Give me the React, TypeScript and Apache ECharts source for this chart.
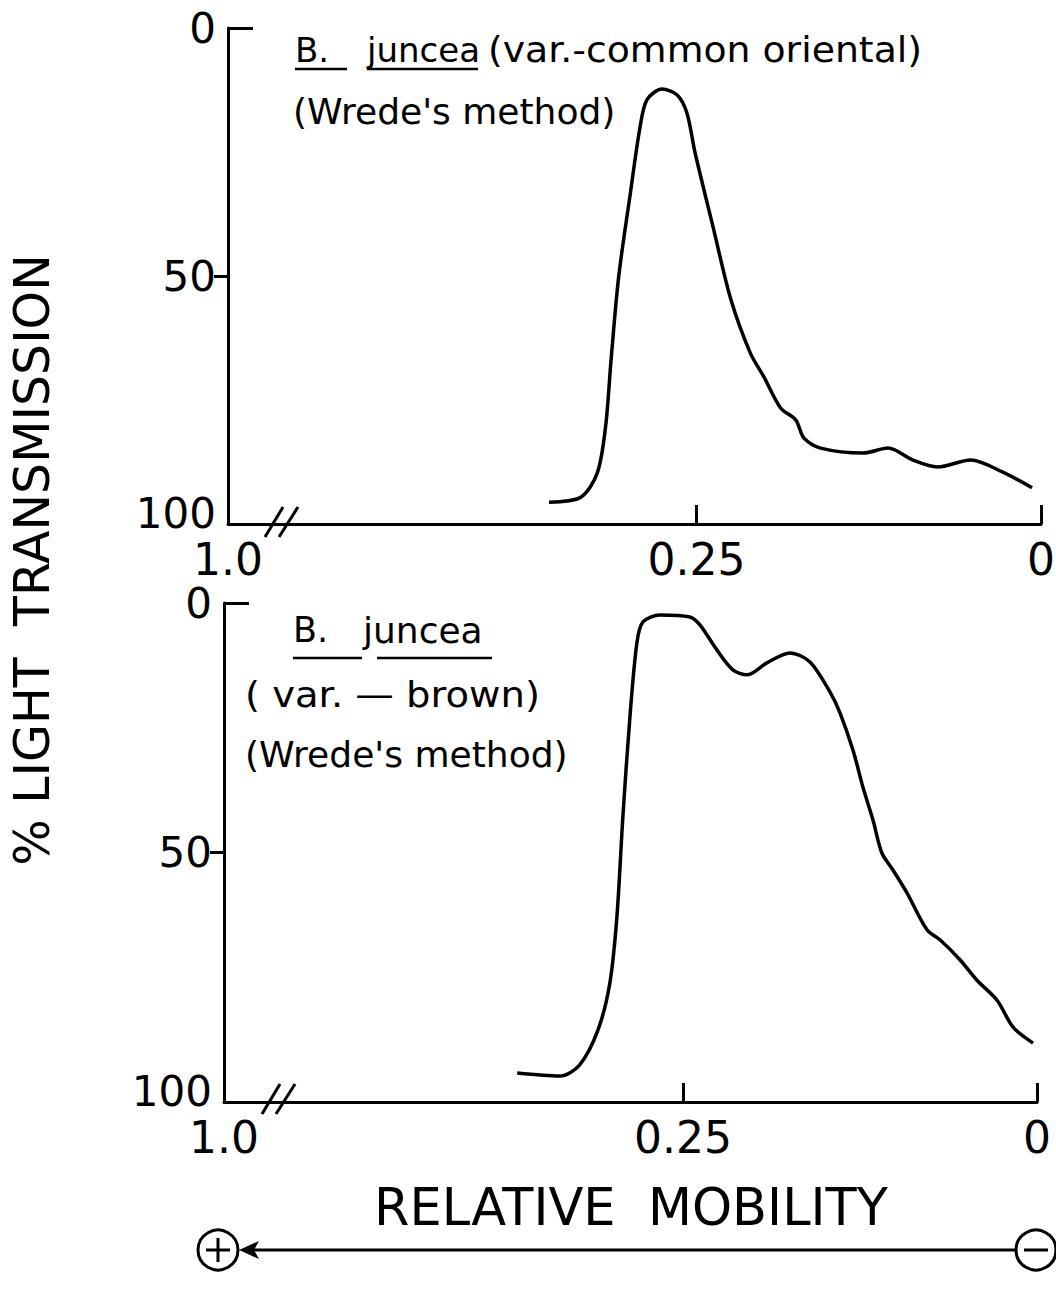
import React, { useEffect, useRef } from "react";
import * as echarts from "echarts";

// Relative mobility (x) and % light transmission (y)
const topMobility = [0.357, 0.334, 0.322, 0.316, 0.312, 0.3065, 0.298, 0.291, 0.286, 0.275, 0.264, 0.257, 0.251, 0.238, 0.225, 0.211, 0.201, 0.189, 0.178, 0.172, 0.16, 0.129, 0.111, 0.093, 0.075, 0.051, 0.028, 0.0065];
const topTransmission = [95.6, 94.6, 89.7, 80.4, 66.9, 50.2, 33.3, 20.0, 14.5, 12.3, 13.5, 17.1, 25.2, 40.1, 54.8, 65.5, 70.4, 76.6, 79.0, 82.7, 84.7, 85.7, 84.7, 87.1, 88.5, 87.1, 89.5, 92.7];

const bottomMobility = [0.367, 0.337, 0.323, 0.31, 0.3016, 0.2966, 0.2924, 0.2874, 0.2825, 0.2782, 0.2662, 0.2451, 0.238, 0.226, 0.2147, 0.2048, 0.1907, 0.1744, 0.1603, 0.1462, 0.1391, 0.1299, 0.1229, 0.1158, 0.1095, 0.1017, 0.0918, 0.0777, 0.0685, 0.0544, 0.0424, 0.0282, 0.0169, 0.0028];
const bottomTransmission = [94.2, 94.8, 92.6, 85.6, 76.2, 62.9, 42.9, 22.8, 8.0, 3.8, 2.4, 2.8, 4.4, 9.4, 13.4, 14.4, 12.0, 10.0, 11.8, 17.8, 22.0, 29.5, 36.9, 43.5, 50.1, 53.5, 58.1, 65.5, 67.5, 71.5, 75.6, 79.6, 85.0, 88.2];

// Axis ticks
const xTickValues = [0, 0.25];
const xBreakEnd = [0.59, 0.574]; // left end of each (broken) x axis, labelled "1.0"
const xBreakLabel = "1.0";
const yLabelValues = [0, 50, 100];

const FONT = "DejaVu Sans";
const BLACK = "#000";

export default function App() {
  const ref = useRef<HTMLDivElement>(null);

  useEffect(() => {
    if (!ref.current) return;
    const chart = echarts.init(ref.current, null, { renderer: "svg" });

    const axisLineStyle = { color: BLACK, width: 3 };

    const xAxes = [0, 1].map((i) => ({
      type: "value",
      gridIndex: i,
      inverse: true,
      min: 0,
      max: xBreakEnd[i],
      position: "bottom",
      axisLine: { show: true, onZero: false, lineStyle: axisLineStyle },
      axisTick: { show: true, inside: true, length: 19, customValues: xTickValues, lineStyle: axisLineStyle },
      axisLabel: {
        customValues: [...xTickValues, xBreakEnd[i]],
        formatter: (v: number) => (v === 0 ? "0" : Math.abs(v - 0.25) < 1e-9 ? "0.25" : xBreakLabel),
        fontSize: 44,
        fontFamily: FONT,
        color: BLACK,
        margin: 13,
      },
      splitLine: { show: false },
    }));

    const yAxes: any[] = [];
    [0, 1].forEach((i) => {
      yAxes.push({
        type: "value",
        gridIndex: i,
        inverse: true,
        min: 0,
        max: 100,
        position: "left",
        axisLine: { show: true, onZero: false, lineStyle: axisLineStyle },
        axisTick: { show: true, inside: false, length: 14, customValues: [50], lineStyle: axisLineStyle },
        axisLabel: {
          customValues: yLabelValues,
          fontSize: 42,
          fontFamily: FONT,
          color: BLACK,
          margin: 12,
          formatter: (v: number) => (v === 100 ? "{h|100}" : String(v)),
          rich: { h: { fontSize: 42, fontFamily: FONT, color: BLACK, padding: [0, 0, 22, 0] } },
        },
        splitLine: { show: false },
      });
      yAxes.push({
        type: "value",
        gridIndex: i,
        inverse: true,
        min: 0,
        max: 100,
        position: "left",
        axisLine: { show: false, onZero: false },
        axisTick: { show: true, inside: true, length: 25, customValues: [0], lineStyle: axisLineStyle },
        axisLabel: { show: false },
        splitLine: { show: false },
      });
    });

    const zip = (xs: number[], ys: number[]) => xs.map((x, k) => [x, ys[k]]);

    const text = (t: string, x: number, y: number, size: number, extra: any = {}, scaleX = 1) => ({
      type: "text",
      x,
      y,
      scaleX,
      style: { text: t, fill: BLACK, font: `${size}px "${FONT}"`, textVerticalAlign: "middle", textAlign: "left", ...extra },
    });
    const line = (x1: number, y1: number, x2: number, y2: number, w = 3) => ({
      type: "line",
      shape: { x1, y1, x2, y2 },
      style: { stroke: BLACK, lineWidth: w },
    });

    const option: any = {
      animation: false,
      backgroundColor: "#fff",
      grid: [
        { left: 228, top: 28, width: 1041 - 228, height: 496, containLabel: false, outerBoundsMode: "none" },
        { left: 224, top: 603, width: 1037 - 224, height: 499, containLabel: false, outerBoundsMode: "none" },
      ],
      xAxis: xAxes,
      yAxis: yAxes,
      series: [
        {
          type: "line",
          xAxisIndex: 0,
          yAxisIndex: 0,
          data: zip(topMobility, topTransmission),
          showSymbol: false,
          smooth: 0.3,
          lineStyle: { color: BLACK, width: 3.5 },
        },
        {
          type: "line",
          xAxisIndex: 1,
          yAxisIndex: 2,
          data: zip(bottomMobility, bottomTransmission),
          showSymbol: false,
          smooth: 0.3,
          lineStyle: { color: BLACK, width: 3.5 },
        },
      ],
      graphic: [
        // axis breaks
        { type: "rect", shape: { x: 262, y: 519, width: 30, height: 10 }, style: { fill: "#fff" } },
        line(265, 537, 283, 507),
        line(279, 537, 298, 507),
        { type: "rect", shape: { x: 260, y: 1097, width: 30, height: 10 }, style: { fill: "#fff" } },
        line(262, 1114, 280, 1084),
        line(276, 1114, 295, 1084),
        // top annotation
        text("B.", 295, 50, 34),
        text("juncea", 367, 50, 34),
        text("(var.-common oriental)", 488, 50, 35, {}, 1.08),
        line(295, 69, 347, 69, 2.5),
        line(367, 69, 478, 69, 2.5),
        text("(Wrede's method)", 293, 111, 36),
        // bottom annotation
        text("B.", 293, 630, 35),
        text("juncea", 363, 630, 36),
        line(293, 658, 362, 658, 2.5),
        line(377, 658, 492, 658, 2.5),
        text("( var. — brown)", 245, 695, 35, {}, 1.1),
        text("(Wrede's method)", 245, 755, 35, {}, 1.03),
        // axis titles
        {
          type: "text",
          x: 32,
          y: 560,
          rotation: Math.PI / 2,
          style: { text: "% LIGHT  TRANSMISSION", fill: BLACK, font: `49px "${FONT}"`, textAlign: "center", textVerticalAlign: "middle" },
        },
        text("RELATIVE  MOBILITY", 631, 1207, 51, { textAlign: "center" }),
        // electrode arrow
        line(252, 1250, 1016, 1250, 3),
        { type: "polygon", shape: { points: [[239, 1250], [259, 1241], [254, 1250], [259, 1259]] }, style: { fill: BLACK } },
        { type: "circle", shape: { cx: 218, cy: 1250, r: 20 }, style: { fill: "none", stroke: BLACK, lineWidth: 3 } },
        line(218, 1238, 218, 1262, 3),
        line(206, 1250, 230, 1250, 3),
        { type: "circle", shape: { cx: 1036, cy: 1250, r: 20 }, style: { fill: "none", stroke: BLACK, lineWidth: 3 } },
        line(1024, 1250, 1048, 1250, 3),
      ],
    };

    chart.setOption(option);
    return () => chart.dispose();
  }, []);

  return (
    <div
      ref={ref}
      style={{ position: "absolute", left: 0, top: 0, width: 1056, height: 1294, background: "#fff" }}
    />
  );
}
